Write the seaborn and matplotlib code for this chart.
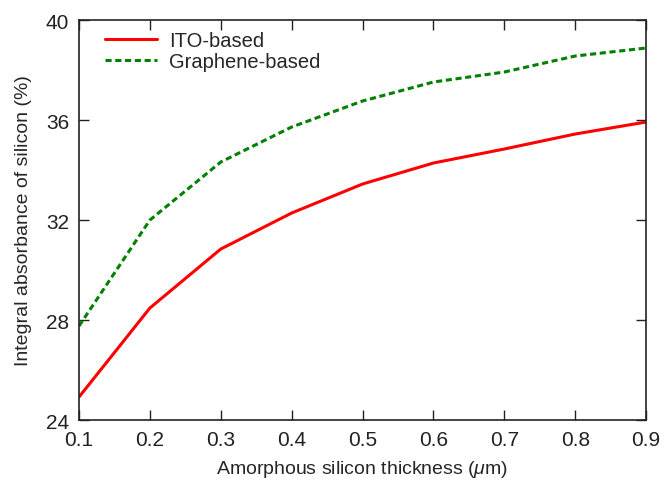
import matplotlib
matplotlib.use("Agg")
import matplotlib.pyplot as plt
import seaborn as sns
import pandas as pd

thickness = [0.1, 0.2, 0.3, 0.4, 0.5, 0.6, 0.7, 0.8, 0.9]
ito = [24.92, 28.48, 30.84, 32.28, 33.44, 34.28, 34.84, 35.44, 35.92]
graphene = [27.76, 32.0, 34.32, 35.72, 36.76, 37.52, 37.92, 38.56, 38.88]
series_names = ["ITO-based", "Graphene-based"]
x_ticks = [0.1, 0.2, 0.3, 0.4, 0.5, 0.6, 0.7, 0.8, 0.9]
y_ticks = [24, 28, 32, 36, 40]

df = pd.DataFrame({
    "x": thickness * 2,
    "y": ito + graphene,
    "series": [series_names[0]] * len(ito) + [series_names[1]] * len(graphene),
})

sns.set_style("ticks")
plt.rcParams["font.family"] = ["Liberation Sans", "DejaVu Sans"]
plt.rcParams["mathtext.fontset"] = "custom"
plt.rcParams["mathtext.it"] = "Liberation Sans:italic"

fig = plt.figure(figsize=(6.64, 4.81), dpi=100)
ax = fig.add_axes([0.119, 0.1247, 0.854, 0.8316])

sns.lineplot(data=df, x="x", y="y", hue="series", style="series",
             palette={"ITO-based": "#ff0000", "Graphene-based": "#007f00"},
             dashes={"ITO-based": "", "Graphene-based": (2.0, 1.2)},
             linewidth=2.2, ax=ax)

ax.set_xlim(0.1, 0.9)
ax.set_ylim(24, 40)
ax.set_xticks(x_ticks)
ax.set_xticklabels([f"{v:.1f}" for v in x_ticks])
ax.set_yticks(y_ticks)
ax.tick_params(direction="in", length=7, width=1.0, top=True, right=True,
               labelsize=15, colors="#222222", pad=7)
for s in ax.spines.values():
    s.set_linewidth(1.2)
    s.set_color("#222222")
ax.set_xlabel(r"Amorphous silicon thickness ($\mu$m)", fontsize=14, labelpad=6.5)
ax.set_ylabel("Integral absorbance of silicon (%)", fontsize=14, labelpad=10)

leg = ax.legend(loc="upper left", frameon=False, fontsize=14.5,
                handlelength=2.55, handletextpad=0.6, labelspacing=0.1,
                borderaxespad=0.15, bbox_to_anchor=(0.027, 1.0))

fig.savefig("out.png", dpi=100)
